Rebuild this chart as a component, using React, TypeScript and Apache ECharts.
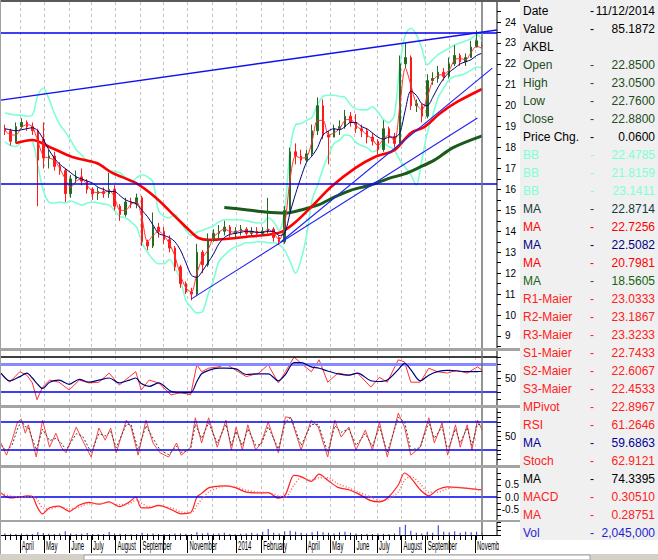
import React, { useEffect, useRef } from 'react';
import * as echarts from 'echarts';

const ts = (s: string) => { const [y, m, d] = s.split('-').map(Number); return new Date(y, m - 1, d).getTime(); };

const X_MIN = '2013-03-08';
const X_MAX = '2014-12-01';
const CURSOR_DATE = '2014-11-12';

const weeks = ['2013-03-13','2013-03-20','2013-03-27','2013-04-03','2013-04-10','2013-04-17','2013-04-24','2013-05-01','2013-05-08','2013-05-15','2013-05-22','2013-05-29','2013-06-05','2013-06-12','2013-06-19','2013-06-26','2013-07-03','2013-07-10','2013-07-17','2013-07-24','2013-07-31','2013-08-07','2013-08-14','2013-08-21','2013-08-28','2013-09-04','2013-09-11','2013-09-18','2013-09-25','2013-10-02','2013-10-09','2013-10-16','2013-10-23','2013-10-30','2013-11-06','2013-11-13','2013-11-20','2013-11-27','2013-12-04','2013-12-11','2013-12-18','2013-12-25','2014-01-01','2014-01-08','2014-01-15','2014-01-22','2014-01-29','2014-02-05','2014-02-12','2014-02-19','2014-02-26','2014-03-05','2014-03-12','2014-03-19','2014-03-26','2014-04-02','2014-04-09','2014-04-16','2014-04-23','2014-04-30','2014-05-07','2014-05-14','2014-05-21','2014-05-28','2014-06-04','2014-06-11','2014-06-18','2014-06-25','2014-07-02','2014-07-09','2014-07-16','2014-07-23','2014-07-30','2014-08-06','2014-08-13','2014-08-20','2014-08-27','2014-09-03','2014-09-10','2014-09-17','2014-09-24','2014-10-01','2014-10-08','2014-10-15','2014-10-22','2014-10-29','2014-11-05','2014-11-12'];

const openP = [18.9,18.8,18.3,19.0,19.2,19.0,18.8,18.4,17.5,17.6,17.1,16.9,15.8,16.5,16.6,16.4,16.0,15.8,15.9,15.8,16.0,15.2,14.8,15.4,15.3,15.6,13.5,13.3,14.2,14.0,13.6,13.2,12.3,11.5,11.1,11.0,13.0,12.4,13.6,13.9,14.0,14.2,13.9,14.0,14.1,13.9,14.0,13.9,14.0,14.1,13.7,13.5,15.0,17.8,17.6,17.4,17.7,18.8,20.0,18.6,18.5,18.9,19.0,19.5,19.2,18.9,18.8,18.5,18.3,17.9,18.9,18.5,18.2,22.0,22.3,20.0,20.0,19.5,21.2,21.3,21.6,21.4,22.0,22.4,22.1,22.3,22.8,22.85];
const closeP = [18.8,18.3,19.0,19.2,19.0,18.8,17.4,17.5,17.6,17.1,16.9,15.8,16.5,16.6,16.4,16.0,15.8,15.9,15.8,16.0,15.2,14.8,15.4,15.3,15.6,13.5,13.3,14.2,14.0,13.6,13.2,12.3,11.5,11.1,11.0,13.0,12.4,13.6,13.9,14.0,14.2,13.9,14.0,14.1,13.9,14.0,13.9,14.0,14.1,13.7,13.5,15.0,17.8,17.6,17.4,17.7,18.8,20.0,18.6,18.5,18.9,19.0,19.5,19.2,18.9,18.8,18.5,18.3,17.9,18.9,18.5,18.2,22.0,22.3,20.0,20.1,19.5,21.2,21.3,21.6,21.4,22.0,22.4,22.1,22.3,22.8,23.1,22.88];
const lowP = [18.6,18.1,18.2,18.9,18.8,18.6,15.2,17.0,17.0,16.9,16.7,15.4,15.6,16.3,16.2,15.8,15.5,15.5,15.6,15.6,15.0,14.5,14.7,15.1,15.1,13.3,13.1,13.2,13.7,13.4,13.0,12.1,11.3,11.0,10.7,10.9,12.0,12.3,13.5,13.6,13.8,13.7,13.7,13.8,13.8,13.8,13.7,13.8,13.9,13.5,13.35,13.4,14.9,17.2,17.2,17.3,17.6,18.6,18.4,17.2,18.5,18.6,18.9,19.0,18.7,18.5,18.2,18.1,17.6,17.8,18.2,18.0,18.1,21.8,19.8,19.7,19.2,19.4,21.0,21.1,21.2,21.3,21.9,21.9,21.9,22.3,22.8,22.76];
const highP = [19.1,18.9,19.2,19.4,19.3,19.2,18.9,19.2,17.9,17.8,17.3,17.0,16.7,16.9,17.0,16.5,16.1,16.1,16.1,16.8,16.2,15.3,15.6,15.6,15.8,15.7,13.6,14.9,14.4,14.2,13.8,13.3,12.4,11.6,11.3,13.4,13.1,13.9,14.1,14.3,14.5,14.3,14.2,14.3,14.2,14.2,14.2,14.2,15.6,14.2,13.8,15.2,18.0,18.2,17.9,17.9,19.1,20.4,20.3,18.8,19.1,19.3,19.8,19.7,19.6,19.1,18.9,18.7,18.4,19.3,19.0,18.7,22.4,23.0,22.4,20.3,20.1,21.5,21.6,21.9,21.8,22.3,22.9,22.5,22.5,23.1,23.6,23.05];
const volume = [1.5e6,1.2e6,1.0e6,1.3e6,0.8e6,1.0e6,2.5e6,1.8e6,1.2e6,1.0e6,1.5e6,3.5e6,1.5e6,1.0e6,1.2e6,1.8e6,1.0e6,0.9e6,1.0e6,2.8e6,1.5e6,1.2e6,1.0e6,0.8e6,1.0e6,2.0e6,1.2e6,1.5e6,1.0e6,0.9e6,1.0e6,1.3e6,1.5e6,1.2e6,1.0e6,2.5e6,1.5e6,2.0e6,1.2e6,1.5e6,2.0e6,1.0e6,0.8e6,1.2e6,1.5e6,2.0e6,1.5e6,3.0e6,5.5e6,2.0e6,1.5e6,3.5e6,4.0e6,3.0e6,2.0e6,1.5e6,2.5e6,3.5e6,2.5e6,2.0e6,1.5e6,2.5e6,3.0e6,2.0e6,1.5e6,1.0e6,1.2e6,1.0e6,1.5e6,1.2e6,1.0e6,1.5e6,7.5e6,9.5e6,4.0e6,2.0e6,1.5e6,3.0e6,2.0e6,9.0e6,3.0e6,2.5e6,3.5e6,2.0e6,3.0e6,2.5e6,3.0e6,2.045e6];

const bbUpper = [19.65,19.6,19.55,19.55,19.5,19.55,20.5,20.85,20.35,19.65,19.1,18.75,18.35,17.9,17.65,17.35,17.3,17.25,17.1,16.9,16.85,16.8,16.55,16.35,16.55,16.7,16.6,16.35,15.0,14.7,14.65,14.8,14.45,14.05,13.8,13.95,14.05,14.15,14.25,14.45,14.55,14.55,14.55,14.55,14.5,14.45,14.4,14.4,14.65,14.45,14.05,15.0,17.9,19.1,19.15,19.3,19.45,20.05,20.45,20.5,20.5,20.45,20.4,20.05,19.85,19.8,19.8,19.95,19.7,19.35,19.2,19.55,21.95,23.4,23.7,23.4,22.75,21.95,22.2,22.45,22.6,22.75,22.9,23.0,23.1,23.2,23.4,23.14];
const bbLower = [18.27,18.1,18.05,18.25,18.35,18.3,17.15,15.95,15.4,15.35,15.4,15.35,15.45,15.35,15.25,15.35,15.4,15.35,15.3,15.25,15.0,14.7,14.65,14.45,14.2,13.45,13.0,12.65,12.45,12.45,12.65,12.25,11.7,10.7,10.35,10.1,10.15,10.95,11.65,12.55,12.85,13.1,13.25,13.35,13.45,13.45,13.5,13.5,13.45,13.45,13.35,13.1,12.55,12.0,12.65,13.8,15.5,16.2,17.0,17.65,18.2,18.35,18.6,18.55,18.25,18.1,18.0,17.8,17.9,18.2,18.05,17.9,17.4,17.05,16.7,16.2,17.4,18.7,19.55,20.4,20.85,21.25,21.4,21.45,21.55,21.7,21.85,21.82];
const maShortRed = [18.85,18.6,18.6,18.95,19.1,19.0,18.3,17.6,17.5,17.4,17.0,16.5,16.1,16.4,16.5,16.2,15.9,15.85,15.85,15.95,15.6,15.0,15.0,15.3,15.4,14.6,13.5,13.8,14.0,13.8,13.4,12.8,11.9,11.3,11.1,12.0,12.7,13.1,13.7,13.95,14.1,14.0,13.95,14.05,14.0,13.95,13.95,13.95,14.1,13.9,13.6,14.3,16.5,17.6,17.5,17.55,18.3,19.3,19.3,18.6,18.7,18.9,19.3,19.35,19.05,18.85,18.6,18.4,18.1,18.4,18.6,18.3,20.0,21.8,21.0,20.1,19.8,20.4,21.2,21.45,21.5,21.7,22.2,22.25,22.2,22.55,22.85,22.73];
const maNavy = [18.9,18.85,18.8,18.85,18.9,18.95,18.8,18.4,17.9,17.5,17.2,17.0,16.8,16.6,16.5,16.4,16.3,16.1,16.0,15.9,15.9,15.7,15.5,15.4,15.3,15.0,14.7,14.3,13.9,13.8,13.7,13.5,13.1,12.5,11.9,11.8,12.1,12.5,12.9,13.4,13.7,13.85,13.9,13.95,14.0,14.0,13.95,13.95,14.0,14.0,13.8,13.9,14.9,15.8,16.6,17.3,17.6,18.0,18.6,18.8,18.9,18.85,19.0,19.2,19.2,19.0,18.9,18.7,18.5,18.4,18.5,18.5,18.7,19.8,20.7,20.5,20.1,20.0,20.4,20.9,21.3,21.6,21.8,22.0,22.1,22.2,22.4,22.51];

const ma100Dates = ['2013-03-27','2013-04-17','2013-05-09','2013-06-07','2013-07-08','2013-07-28','2013-08-27','2013-09-22','2013-10-17','2013-11-03','2013-11-15','2013-11-28','2013-12-20','2014-01-14','2014-02-08','2014-03-01','2014-03-19','2014-04-13','2014-05-03','2014-06-03','2014-06-28','2014-07-23','2014-08-13','2014-08-30','2014-09-20','2014-10-11','2014-11-12'];
const ma100Values = [18.22,18.36,18.03,17.55,17.26,16.79,16.31,15.59,14.68,14.06,13.68,13.59,13.63,13.73,13.82,13.97,14.44,15.35,16.12,17.02,17.55,17.88,18.70,18.98,19.65,20.18,20.80];
const ma200Dates = ['2013-12-18','2014-01-17','2014-02-08','2014-03-06','2014-03-26','2014-04-17','2014-05-08','2014-05-29','2014-06-23','2014-07-18','2014-08-05','2014-08-22','2014-09-12','2014-10-06','2014-11-12'];
const ma200Values = [15.14,15.02,14.92,14.87,15.02,15.26,15.64,15.97,16.21,16.55,16.74,17.02,17.40,18.0,18.56];

const upTrendDates = ['2013-03-08','2014-12-01'];
const upTrendValues = [20.27,23.62];
const novTrendDates = ['2013-11-06','2014-11-06'];
const novTrendValues = [10.77,19.41];
const febTrendDates = ['2014-02-28','2014-11-25'];
const febTrendValues = [13.49,21.80];
const resistanceLevel = 23.47;
const supportLevel = 16.26;

const oscDates = ['2013-03-08','2013-03-19','2013-04-01','2013-04-10','2013-04-17','2013-04-23','2013-04-30','2013-05-09','2013-05-21','2013-06-03','2013-06-16','2013-06-28','2013-07-11','2013-07-24','2013-08-06','2013-08-19','2013-08-27','2013-09-03','2013-09-13','2013-09-25','2013-10-11','2013-10-24','2013-11-05','2013-11-13','2013-11-19','2013-11-28','2013-12-11','2013-12-20','2014-01-02','2014-01-15','2014-01-31','2014-02-12','2014-02-25','2014-03-06','2014-03-17','2014-03-26','2014-04-08','2014-04-18','2014-04-29','2014-05-12','2014-05-26','2014-06-06','2014-06-23','2014-07-04','2014-07-14','2014-07-28','2014-08-05','2014-08-13','2014-08-25','2014-09-05','2014-09-16','2014-09-29','2014-10-10','2014-10-24','2014-11-06','2014-11-12'];
const rsiValues = [57,44,59,54,43,19,37,47,44,33,47,43,44,57,40,52,59,33,47,43,26,29,26,69,59,64,66,70,61,52,57,69,43,59,80,71,59,76,44,57,54,57,37,51,44,76,73,44,44,64,59,57,61,57,66,61.26];
const rsiMaValues = [57,46,52,57,50,42,35,44,47,41,48,44,47,50,43,47,50,42,38,43,31,29,29,45,56,61,64,64,63,55,56,56,46,55,72,72,66,64,60,56,54,57,46,45,47,62,71,62,46,54,59,61,60,59,59,59.69];
const macdValues = [0.17,-0.04,0.0,0.05,0.02,-0.4,-0.7,-0.45,-0.38,-0.6,-0.33,-0.22,-0.3,-0.2,-0.4,-0.2,0.0,-0.45,-0.45,-0.35,-0.52,-0.7,-0.65,0.0,0.15,0.38,0.45,0.46,0.38,0.2,0.17,0.18,-0.05,0.1,0.9,0.85,0.65,0.95,0.7,0.4,0.3,0.15,-0.15,-0.2,-0.05,0.5,1.0,0.8,0.3,0.05,0.3,0.42,0.4,0.36,0.32,0.3051];
const macdSignalValues = [0.15,0.05,0.0,0.02,0.03,-0.1,-0.45,-0.5,-0.4,-0.5,-0.42,-0.28,-0.28,-0.23,-0.32,-0.28,-0.12,-0.25,-0.4,-0.38,-0.45,-0.62,-0.66,-0.35,-0.1,0.2,0.4,0.45,0.42,0.28,0.2,0.18,0.05,0.0,0.5,0.8,0.7,0.8,0.8,0.55,0.38,0.22,0.0,-0.15,-0.1,0.2,0.7,0.85,0.55,0.2,0.2,0.35,0.4,0.37,0.3,0.2875];

const stochDates = ['2013-03-08','2013-03-15','2013-03-22','2013-03-29','2013-04-03','2013-04-08','2013-04-12','2013-04-22','2013-04-30','2013-05-09','2013-05-17','2013-05-24','2013-05-30','2013-06-12','2013-06-20','2013-07-01','2013-07-11','2013-07-19','2013-07-26','2013-08-02','2013-08-15','2013-08-21','2013-08-30','2013-09-09','2013-09-18','2013-09-27','2013-10-08','2013-10-18','2013-10-24','2013-11-05','2013-11-11','2013-11-19','2013-11-28','2013-12-09','2013-12-20','2013-12-27','2014-01-02','2014-01-10','2014-01-17','2014-01-27','2014-02-03','2014-02-12','2014-02-25','2014-03-06','2014-03-13','2014-03-26','2014-04-08','2014-04-17','2014-04-29','2014-05-08','2014-05-16','2014-05-26','2014-06-04','2014-06-16','2014-06-25','2014-07-04','2014-07-14','2014-07-28','2014-08-05','2014-08-13','2014-08-25','2014-09-05','2014-09-12','2014-09-22','2014-09-29','2014-10-09','2014-10-15','2014-10-24','2014-10-30','2014-11-06','2014-11-12'];
const stochValues = [35,9,41,80,86,56,74,5,84,26,56,26,14,69,41,5,67,41,67,14,84,69,9,84,35,14,5,35,9,26,89,35,89,26,84,20,69,20,74,20,35,80,14,91,89,20,84,69,5,84,48,69,20,63,20,80,5,99,69,9,26,89,35,78,9,74,26,74,20,84,62.91];
const stochMaValues = [30,18,30,65,82,70,68,20,65,40,45,35,20,55,50,15,55,50,60,25,75,75,20,72,45,20,10,28,15,22,75,45,78,35,75,30,60,30,65,30,32,70,22,80,90,30,75,75,15,72,58,65,30,55,28,70,15,90,80,20,25,80,45,70,20,65,35,68,30,75,74.34];

const monthStarts = ['2013-04-01','2013-05-02','2013-06-03','2013-07-01','2013-08-01','2013-09-02','2013-10-01','2013-11-01','2013-12-02','2014-01-02','2014-02-03','2014-03-03','2014-04-01','2014-05-02','2014-06-02','2014-07-01','2014-08-01','2014-09-01','2014-10-01','2014-11-03'];
const labelDates = ['2013-04-01','2013-05-02','2013-06-03','2013-07-01','2013-08-01','2013-09-02','2013-11-01','2014-01-02','2014-02-03','2014-04-01','2014-05-02','2014-06-02','2014-07-01','2014-08-01','2014-09-01','2014-11-03'];
const labelTexts = ['April','May','June','July','August','September','November','2014','February','April','May','June','July','August','September','November'];

const priceLabels = [9,10,11,12,13,14,15,16,17,18,19,20,21,22,23,24];
const priceTicks = [8.5,9,9.5,10,10.5,11,11.5,12,12.5,13,13.5,14,14.5,15,15.5,16,16.5,17,17.5,18,18.5,19,19.5,20,20.5,21,21.5,22,22.5,23,23.5,24,24.5];
const rsiLevels = [80,70,30];
const stochLevels = [80,20];
const rsiTicks = [20,30,40,50,60,70,80];
const stochTicks = [0,10,20,30,40,50,60,70,80,90,100];
const macdLabels = [-0.5,0,0.5];
const macdTicks = [-0.75,-0.5,-0.25,0,0.25,0.5,0.75,1];

const infoLabels = ['Date','Value','AKBL','Open','High','Low','Close','Price Chg.','BB','BB','BB','MA','MA','MA','MA','MA','R1-Maier','R2-Maier','R3-Maier','S1-Maier','S2-Maier','S3-Maier','MPivot','RSI','MA','Stoch','MA','MACD','MA','Vol'];
const infoValues = ['11/12/2014','85.1872','','22.8500','23.0500','22.7600','22.8800','0.0600','22.4785','21.8159','23.1411','22.8714','22.7256','22.5082','20.7981','18.5605','23.0333','23.1867','23.3233','22.7433','22.6067','22.4533','22.8967','61.2646','59.6863','62.9121','74.3395','0.30510','0.28751','2,045,000'];
const infoColors = ['#000','#000','#000','#1e4d1e','#1e4d1e','#1e4d1e','#1e4d1e','#000','#7fffd4','#7fffd4','#7fffd4','#133a3a','#ff0000','#000080','#ff0000','#146414','#ff2020','#ff2020','#ff2020','#ff2020','#ff2020','#ff2020','#ff2020','#ff2020','#000099','#ff2020','#000','#ff2020','#ff2020','#1f1fd0'];

const AXIS_FONT = '"Liberation Sans", Arial, sans-serif';
const INFO_FONT = '12px "Liberation Sans", Arial, sans-serif';

const pairs = (dates: string[], vals: number[]) => dates.map((d, i) => [ts(d), vals[i]]);

function baseGraphic() {
  const graphic: any[] = [
    { type: 'rect', z: 100, silent: true, shape: { x: 0, y: 0, width: 520, height: 2 }, style: { fill: '#5a5a5a' } },
    { type: 'rect', z: 100, silent: true, shape: { x: 0, y: 0, width: 1, height: 554 }, style: { fill: '#a0a0a0' } },
    { type: 'rect', z: 100, silent: true, shape: { x: 0, y: 348, width: 520, height: 3 }, style: { fill: '#a4a4a4' } },
    { type: 'rect', z: 100, silent: true, shape: { x: 0, y: 405, width: 520, height: 3 }, style: { fill: '#a4a4a4' } },
    { type: 'rect', z: 100, silent: true, shape: { x: 0, y: 465, width: 520, height: 3 }, style: { fill: '#a4a4a4' } },
    { type: 'rect', z: 100, silent: true, shape: { x: 0, y: 520, width: 520, height: 2 }, style: { fill: '#a4a4a4' } },
    { type: 'rect', z: 100, silent: true, shape: { x: 499, y: 537, width: 21, height: 17 }, style: { fill: '#ffffff' } },
    { type: 'rect', z: 100, silent: true, shape: { x: 520, y: 0, width: 138, height: 540 }, style: { fill: '#f0f0f0' } },
    { type: 'rect', z: 100, silent: true, shape: { x: 0, y: 554, width: 658, height: 6 }, style: { fill: '#d4d0c8' } },
    { type: 'rect', z: 101, silent: true, shape: { x: 84, y: 555, width: 506, height: 5 }, style: { fill: '#ffffff', stroke: '#a0a0a0', lineWidth: 1 } },
  ];
  infoLabels.forEach((lab, i) => {
    const y = 11 + i * 18;
    const fill = infoColors[i];
    graphic.push({ type: 'text', z: 102, silent: true, style: { text: lab, x: 523, y, fill, font: INFO_FONT, align: 'left', verticalAlign: 'middle' } });
    if (i !== 2) {
      graphic.push({ type: 'text', z: 102, silent: true, style: { text: '-', x: 590, y, fill, font: INFO_FONT, align: 'left', verticalAlign: 'middle' } });
    }
    if (infoValues[i]) {
      graphic.push({ type: 'text', z: 102, silent: true, style: { text: infoValues[i], x: 655, y, fill, font: INFO_FONT, align: 'right', verticalAlign: 'middle' } });
    }
  });
  return graphic;
}

function buildOption() {
  const monthTs = monthStarts.map(ts);
  const cursorTs = ts(CURSOR_DATE);
  const grids = [
    { left: 1, top: 2, width: 496, height: 346 },
    { left: 1, top: 351, width: 496, height: 54 },
    { left: 1, top: 408, width: 496, height: 57 },
    { left: 1, top: 468, width: 496, height: 52 },
    { left: 1, top: 522, width: 496, height: 13 },
    { left: 1, top: 522, width: 496, height: 13 },
  ].map((g) => ({ ...g, outerBoundsMode: 'none', containLabel: false }));

  const xAxes = grids.map((_, i) => {
    const base: any = {
      type: 'value', gridIndex: i, min: ts(X_MIN), max: ts(X_MAX), scale: true,
      axisLine: { show: false }, axisTick: { show: false, customValues: monthTs },
      axisLabel: { show: false }, splitLine: { show: false }, axisPointer: { show: false },
    };
    if (i < 4) {
      base.splitLine = { show: true, lineStyle: { color: '#c4c4c4', width: 1, type: [3, 3] } };
    }
    if (i === 4) {
      base.axisLine = { show: true, onZero: false, lineStyle: { color: '#000', width: 1 } };
      base.axisTick = { show: true, customValues: monthTs, length: 18, lineStyle: { color: '#000', width: 1 } };
    }
    if (i === 5) {
      base.axisTick = { show: true, customValues: weeks.map(ts), length: 5, lineStyle: { color: '#000', width: 1 } };
    }
    return base;
  });

  const yBase = (i: number, min: number, max: number, labels: number[] | null, ticks: number[] | null, fmt?: (v: number) => string, labelExtra: any = {}) => ({
    type: 'value', gridIndex: i, position: 'right', min, max, scale: true,
    axisLine: { show: i < 5, onZero: false, lineStyle: { color: '#808080', width: 2 } },
    axisTick: ticks ? { show: true, customValues: ticks, length: 4, inside: false, lineStyle: { color: '#000', width: 1 } } : { show: false },
    axisLabel: labels ? { show: true, customValues: labels, margin: 8, fontSize: 10, fontFamily: AXIS_FONT, color: '#000', formatter: fmt, ...labelExtra } : { show: false },
    splitLine: { show: false },
  });

  const yAxes = [
    yBase(0, 8.424, 24.956, priceLabels, priceTicks),
    yBase(1, 11.4, 88.6, [50], rsiTicks),
    yBase(2, -12.1, 110, [50], stochTicks),
    yBase(3, -0.958, 1.208, macdLabels, macdTicks, (v: number) => v.toFixed(1), { align: 'right', margin: 22 }),
    yBase(4, 0, 12e6, null, [0, 4e6, 8e6, 12e6]),
    yBase(5, 0, 12e6, null, null),
  ];

  const ln = (name: string, data: any[], color: string, width: number, xi: number, extra: any = {}) => ({
    type: 'line', name, data, xAxisIndex: xi, yAxisIndex: xi, showSymbol: false, symbol: 'none',
    lineStyle: { color, width, ...(extra.lineStyle || {}) }, itemStyle: { color }, silent: true,
    emphasis: { disabled: true }, animation: false, smooth: extra.smooth ?? 0, z: extra.z ?? 3,
    markLine: extra.markLine,
  });

  const cursor = { xAxis: cursorTs, lineStyle: { color: '#707070', width: 1.5, type: 'solid' } };
  const ml = (items: any[]) => ({ silent: true, symbol: ['none', 'none'], label: { show: false }, animation: false, emphasis: { disabled: true }, data: items });
  const hl = (v: number, color: string, width: number) => ({ yAxis: v, lineStyle: { color, width, type: 'solid' } });

  const series: any[] = [
    ln('BB upper', pairs(weeks, bbUpper), '#7fffd4', 1.6, 0, { smooth: 0.3, z: 2 }),
    ln('BB lower', pairs(weeks, bbLower), '#7fffd4', 1.6, 0, { smooth: 0.3, z: 2 }),
    ln('MA 200', pairs(ma200Dates, ma200Values), '#1a5a1a', 3, 0, { smooth: 0.3, z: 2 }),
    ln('MA 100', pairs(ma100Dates, ma100Values), '#ff0000', 2.6, 0, { smooth: 0.3, z: 2 }),
    {
      type: 'candlestick', name: 'AKBL', xAxisIndex: 0, yAxisIndex: 0, barWidth: 2,
      data: weeks.map((w, i) => [ts(w), openP[i], closeP[i], lowP[i], highP[i]]),
      encode: { x: 0, y: [1, 2, 3, 4] },
      itemStyle: { color: '#236b23', color0: '#ff1a1a', borderColor: '#236b23', borderColor0: '#ff1a1a', borderWidth: 1 },
      silent: true, animation: false, z: 3,
      markLine: ml([hl(resistanceLevel, '#0000ee', 1.5), hl(supportLevel, '#0000ee', 1.5), cursor]),
    },
    ln('MA 10', pairs(weeks, maShortRed), '#ff3030', 1, 0, { smooth: 0.3, z: 4 }),
    ln('MA 20', pairs(weeks, maNavy), '#000080', 1, 0, { smooth: 0.3, z: 4 }),
    ln('Trend 1', pairs(upTrendDates, upTrendValues), '#1010f0', 1.4, 0, { z: 5 }),
    ln('Trend 2', pairs(novTrendDates, novTrendValues), '#2020f0', 1.1, 0, { z: 5 }),
    ln('Trend 3', pairs(febTrendDates, febTrendValues), '#2020f0', 1.1, 0, { z: 5 }),

    ln('RSI', pairs(oscDates, rsiValues), '#ff3030', 1, 1, {
      z: 4,
      markLine: ml([hl(rsiLevels[0], '#000', 1.5), hl(rsiLevels[1], '#8888ff', 3), hl(rsiLevels[2], '#0000ee', 1.5), cursor]),
    }),
    ln('RSI MA', pairs(oscDates, rsiMaValues), '#000080', 1.2, 1, { smooth: 0.3, z: 5 }),

    ln('Stoch', pairs(stochDates, stochValues), '#ff4040', 1, 2, {
      z: 4,
      markLine: ml([hl(stochLevels[0], '#0000ee', 1.5), hl(stochLevels[1], '#0000ee', 1.5), cursor]),
    }),
    ln('Stoch MA', pairs(stochDates, stochMaValues), '#404040', 1, 2, { z: 5, lineStyle: { type: [2, 2] } }),

    ln('MACD', pairs(oscDates, macdValues), '#ff2020', 1.2, 3, {
      smooth: 0.3, z: 4,
      markLine: ml([hl(0, '#0000ee', 1.5), cursor]),
    }),
    ln('MACD MA', pairs(oscDates, macdSignalValues), '#ff6060', 1.5, 3, { smooth: 0.3, z: 5, lineStyle: { type: [1, 2] } }),

    {
      type: 'bar', name: 'Vol', xAxisIndex: 4, yAxisIndex: 4, barWidth: 1,
      data: pairs(weeks, volume), itemStyle: { color: '#2828e0' }, silent: true, animation: false,
      markLine: ml([cursor]),
    },
  ];

  return {
    animation: false,
    backgroundColor: '#ffffff',
    grid: grids,
    xAxis: xAxes,
    yAxis: yAxes,
    series,
    graphic: baseGraphic(),
  };
}

export default function App() {
  const ref = useRef<HTMLDivElement>(null);
  useEffect(() => {
    if (!ref.current) return;
    const chart = echarts.init(ref.current, null, { renderer: 'svg' });
    chart.setOption(buildOption() as any);
    // month labels of the date axis, placed from the axis's own scale and drawn condensed
    const monthLabels = labelDates.map((d, k) => {
      const px = chart.convertToPixel({ xAxisIndex: 4 }, ts(d)) as unknown as number;
      return {
        type: 'text', z: 99, silent: true, x: px + 2, y: 546, scaleX: 0.46,
        style: { text: labelTexts[k], x: 0, y: 0, font: '13px "Liberation Sans", Arial, sans-serif', fill: '#000', align: 'left', verticalAlign: 'middle' },
      };
    });
    chart.setOption({ graphic: [...baseGraphic(), ...monthLabels] } as any);
    return () => chart.dispose();
  }, []);
  return <div ref={ref} style={{ position: 'fixed', left: 0, top: 0, width: 658, height: 560, background: '#fff' }} />;
}
